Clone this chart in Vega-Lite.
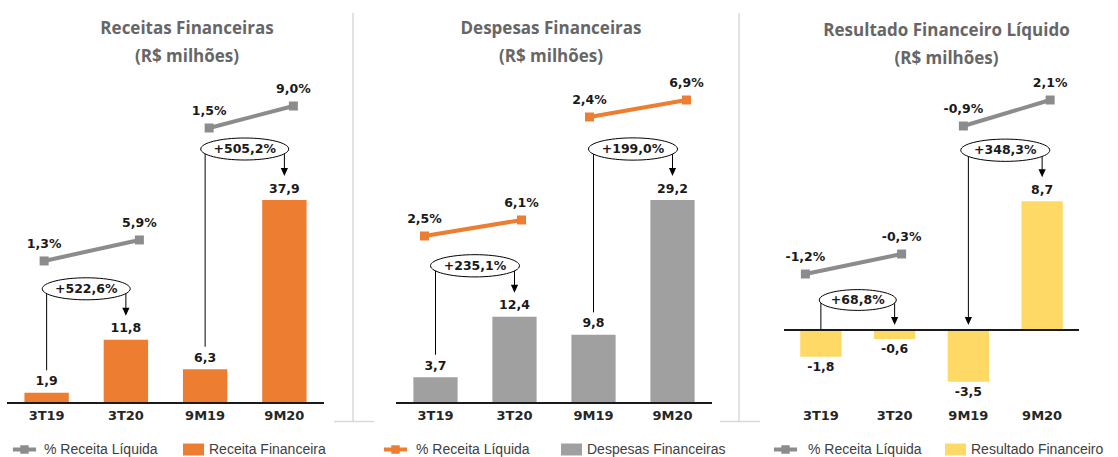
{
  "$schema": "https://vega.github.io/schema/vega-lite/v6.json",
  "background": "white",
  "padding": {"left": 6, "top": 9, "right": 0, "bottom": 0},
  "spacing": 72,
  "bounds": "flush",
  "resolve": {"scale": {"x": "independent", "y": "independent", "color": "independent", "fill": "independent"}, "legend": {"color": "independent", "fill": "independent"}},
  "config": {
    "view": {"stroke": null},
    "locale": {"number": {"decimal": ",", "thousands": ".", "grouping": [3], "currency": ["R$", ""], "minus": "-"}},
    "axisX": {"domain": false, "ticks": false, "tickSize": 0, "labelFont": "DejaVu Sans", "labelFontWeight": "bold", "labelFontSize": 13, "labelColor": "#262626", "labelPadding": 6, "labelAngle": 0, "grid": false},
    "title": {"font": "Open Sans", "fontSize": 17, "fontWeight": "bold", "color": "#666666", "lineHeight": 28, "anchor": "middle", "frame": "group", "offset": 4, "dy": 12},
    "legend": {"orient": "none", "title": null, "padding": 0, "symbolSize": 441, "symbolStrokeWidth": 0, "symbolOpacity": 1, "labelFont": "Liberation Sans", "labelFontSize": 14, "labelColor": "#404040", "labelLimit": 300}
  },
  "hconcat": [
    {
      "width": 317, "height": 343,
      "title": {"text": ["Receitas Financeiras", "(R$ milhões)"], "dx": 21.5, "dy": 60},
      "resolve": {"scale": {"y": "independent"}},
      "layer": [
        {
          "data": {"values": [
            {"cat": "3T19", "val": 1.9}, {"cat": "3T20", "val": 11.8}, {"cat": "9M19", "val": 6.3}, {"cat": "9M20", "val": 37.9}
          ]},
          "layer": [
            {"mark": {"type": "bar"},
             "encoding": {
               "x": {"field": "cat", "type": "nominal", "title": null, "scale": {"type": "band", "paddingInner": 0.44, "paddingOuter": 0.22}},
               "y": {"field": "val", "type": "quantitative", "scale": {"domain": [0, 64.04], "nice": false, "zero": false}, "axis": null},
               "color": {"datum": "Receita Financeira", "type": "nominal", "scale": {"range": ["#ED7D31"]},
                 "legend": {"orient": "none", "legendX": 176, "legendY": 379, "symbolType": "M-1,-0.57H1V0.57H-1Z", "labelOffset": 5}}
             }},
            {"transform": [{"filter": "datum.cat === '9M20'"}],
             "mark": {"type": "point", "shape": "M0,-1V1M-0.093,1H0.103", "size": 166872, "filled": false, "stroke": "#D9D9D9", "strokeWidth": 1.5, "opacity": 1},
             "encoding": {"x": {"field": "cat", "type": "nominal", "title": null, "bandPosition": 2.046}, "y": {"datum": 34.68, "type": "quantitative", "axis": null}}},
            {"mark": {"type": "text", "font": "DejaVu Sans", "fontWeight": "bold", "fontSize": 12.5, "color": "#1a1a1a", "baseline": "middle", "align": "center", "dy": -11.5},
             "encoding": {"x": {"field": "cat", "type": "nominal", "title": null}, "y": {"field": "val", "type": "quantitative", "axis": null}, "text": {"field": "val", "type": "quantitative", "format": ".1f"}}},
            {"mark": {"type": "rule", "color": "#1a1a1a", "strokeWidth": 1.3}, "encoding": {"y": {"datum": 0, "type": "quantitative", "axis": null}}},
            {
              "data": {"values": [
                {"c1": "3T19", "c2": "3T20", "v1": 1.9, "v2": 11.8, "g": 5.226},
                {"c1": "9M19", "c2": "9M20", "v1": 6.3, "v2": 37.9, "g": 5.052}
              ]},
              "layer": [
                {"mark": {"type": "rule", "color": "black", "strokeWidth": 1, "yOffset": -22.5, "y2Offset": -51},
                 "encoding": {"x": {"field": "c1", "type": "nominal", "title": null}, "y": {"field": "v1", "type": "quantitative", "axis": null}, "y2": {"field": "v2"}}},
                {"mark": {"type": "rule", "color": "black", "strokeWidth": 1, "yOffset": -51, "y2Offset": -31},
                 "encoding": {"x": {"field": "c2", "type": "nominal", "title": null}, "y": {"field": "v2", "type": "quantitative", "axis": null}, "y2": {"field": "v2"}}},
                {"mark": {"type": "point", "shape": "M-0.45,-0.5L0.45,-0.5L0,0.5Z", "size": 256, "filled": true, "fill": "black", "strokeWidth": 0, "opacity": 1, "yOffset": -28},
                 "encoding": {"x": {"field": "c2", "type": "nominal", "title": null}, "y": {"field": "v2", "type": "quantitative", "axis": null}}},
                {"mark": {"type": "point", "shape": "M-1,0C-1,-0.138,-0.552,-0.25,0,-0.25C0.552,-0.25,1,-0.138,1,0C1,0.138,0.552,0.25,0,0.25C-0.552,0.25,-1,0.138,-1,0Z", "size": 7744, "filled": true, "fill": "white", "stroke": "black", "strokeWidth": 1, "opacity": 1, "xOffset": 39.6, "yOffset": -51},
                 "encoding": {"x": {"field": "c1", "type": "nominal", "title": null}, "y": {"field": "v2", "type": "quantitative", "axis": null}}},
                {"mark": {"type": "text", "font": "DejaVu Sans", "fontWeight": "bold", "fontSize": 12.5, "color": "#1a1a1a", "baseline": "middle", "align": "center", "xOffset": 39.6, "yOffset": -51},
                 "encoding": {"x": {"field": "c1", "type": "nominal", "title": null}, "y": {"field": "v2", "type": "quantitative", "axis": null}, "text": {"field": "g", "type": "quantitative", "format": "+.1%"}}}
              ]
            }
          ]
        },
        {
          "data": {"values": [{"c1": "3T19", "c2": "3T20", "p1": 0.013, "p2": 0.059}]},
          "layer": [
            {"mark": {"type": "rule", "color": "#8C8C8C", "strokeWidth": 4, "xOffset": -2.5, "x2Offset": 13.5},
             "encoding": {"x": {"field": "c1", "type": "nominal", "title": null}, "x2": {"field": "c2"}, "y": {"field": "p1", "type": "quantitative", "scale": {"domain": [-0.298, 0.453], "nice": false, "zero": false}, "axis": null}, "y2": {"field": "p2"}}},
            {"mark": {"type": "square", "size": 81, "color": "#8C8C8C", "opacity": 1, "xOffset": -2.5},
             "encoding": {"x": {"field": "c1", "type": "nominal", "title": null}, "y": {"field": "p1", "type": "quantitative", "axis": null},
               "fill": {"datum": "% Receita Líquida", "type": "nominal", "scale": {"range": ["#8C8C8C"]},
                 "legend": {"orient": "none", "legendX": 7, "legendY": 379, "symbolType": "M-1.1,-0.19H1.1V0.19H-1.1ZM-0.4,-0.4H0.4V0.4H-0.4Z", "labelOffset": 9}}}},
            {"mark": {"type": "square", "size": 81, "color": "#8C8C8C", "opacity": 1, "xOffset": 13.5},
             "encoding": {"x": {"field": "c2", "type": "nominal", "title": null}, "y": {"field": "p2", "type": "quantitative", "axis": null}}},
            {"mark": {"type": "text", "font": "DejaVu Sans", "fontWeight": "bold", "fontSize": 12.5, "color": "#1a1a1a", "baseline": "middle", "align": "center", "xOffset": -2.5, "dy": -17},
             "encoding": {"x": {"field": "c1", "type": "nominal", "title": null}, "y": {"field": "p1", "type": "quantitative", "axis": null}, "text": {"field": "p1", "type": "quantitative", "format": ".1%"}}},
            {"mark": {"type": "text", "font": "DejaVu Sans", "fontWeight": "bold", "fontSize": 12.5, "color": "#1a1a1a", "baseline": "middle", "align": "center", "xOffset": 13.5, "dy": -17},
             "encoding": {"x": {"field": "c2", "type": "nominal", "title": null}, "y": {"field": "p2", "type": "quantitative", "axis": null}, "text": {"field": "p2", "type": "quantitative", "format": ".1%"}}}
          ]
        },
        {
          "data": {"values": [{"c1": "9M19", "c2": "9M20", "p1": 0.015, "p2": 0.09}]},
          "layer": [
            {"mark": {"type": "rule", "color": "#8C8C8C", "strokeWidth": 4, "xOffset": 4, "x2Offset": 9},
             "encoding": {"x": {"field": "c1", "type": "nominal", "title": null}, "x2": {"field": "c2"}, "y": {"field": "p1", "type": "quantitative", "scale": {"domain": [-0.9225, 0.2468], "nice": false, "zero": false}, "axis": null}, "y2": {"field": "p2"}}},
            {"mark": {"type": "square", "size": 81, "color": "#8C8C8C", "opacity": 1, "xOffset": 4},
             "encoding": {"x": {"field": "c1", "type": "nominal", "title": null}, "y": {"field": "p1", "type": "quantitative", "axis": null}}},
            {"mark": {"type": "square", "size": 81, "color": "#8C8C8C", "opacity": 1, "xOffset": 9},
             "encoding": {"x": {"field": "c2", "type": "nominal", "title": null}, "y": {"field": "p2", "type": "quantitative", "axis": null}}},
            {"mark": {"type": "text", "font": "DejaVu Sans", "fontWeight": "bold", "fontSize": 12.5, "color": "#1a1a1a", "baseline": "middle", "align": "center", "xOffset": 4, "dy": -17},
             "encoding": {"x": {"field": "c1", "type": "nominal", "title": null}, "y": {"field": "p1", "type": "quantitative", "axis": null}, "text": {"field": "p1", "type": "quantitative", "format": ".1%"}}},
            {"mark": {"type": "text", "font": "DejaVu Sans", "fontWeight": "bold", "fontSize": 12.5, "color": "#1a1a1a", "baseline": "middle", "align": "center", "xOffset": 9, "dy": -17},
             "encoding": {"x": {"field": "c2", "type": "nominal", "title": null}, "y": {"field": "p2", "type": "quantitative", "axis": null}, "text": {"field": "p2", "type": "quantitative", "format": ".1%"}}}
          ]
        }
      ]
    },
    {
      "width": 316, "height": 343,
      "title": {"text": ["Despesas Financeiras", "(R$ milhões)"], "dx": -3, "dy": 60},
      "resolve": {"scale": {"y": "independent"}},
      "layer": [
        {
          "data": {"values": [
            {"cat": "3T19", "val": 3.7}, {"cat": "3T20", "val": 12.4}, {"cat": "9M19", "val": 9.8}, {"cat": "9M20", "val": 29.2}
          ]},
          "layer": [
            {"mark": {"type": "bar"},
             "encoding": {
               "x": {"field": "cat", "type": "nominal", "title": null, "scale": {"type": "band", "paddingInner": 0.44, "paddingOuter": 0.22}},
               "y": {"field": "val", "type": "quantitative", "scale": {"domain": [0, 49.34], "nice": false, "zero": false}, "axis": null},
               "color": {"datum": "Despesas Financeiras", "type": "nominal", "scale": {"range": ["#A0A0A0"]},
                 "legend": {"orient": "none", "legendX": 165, "legendY": 379, "symbolType": "M-1,-0.57H1V0.57H-1Z", "labelOffset": 5}}
             }},
            {"transform": [{"filter": "datum.cat === '9M20'"}],
             "mark": {"type": "point", "shape": "M0,-1V1M-0.093,1H0.103", "size": 166872, "filled": false, "stroke": "#D9D9D9", "strokeWidth": 1.5, "opacity": 1},
             "encoding": {"x": {"field": "cat", "type": "nominal", "title": null, "bandPosition": 2.003}, "y": {"datum": 26.72, "type": "quantitative", "axis": null}}},
            {"mark": {"type": "text", "font": "DejaVu Sans", "fontWeight": "bold", "fontSize": 12.5, "color": "#1a1a1a", "baseline": "middle", "align": "center", "dy": -11.5},
             "encoding": {"x": {"field": "cat", "type": "nominal", "title": null}, "y": {"field": "val", "type": "quantitative", "axis": null}, "text": {"field": "val", "type": "quantitative", "format": ".1f"}}},
            {"mark": {"type": "rule", "color": "#1a1a1a", "strokeWidth": 1.3}, "encoding": {"y": {"datum": 0, "type": "quantitative", "axis": null}}},
            {
              "data": {"values": [
                {"c1": "3T19", "c2": "3T20", "v1": 3.7, "v2": 12.4, "g": 2.351},
                {"c1": "9M19", "c2": "9M20", "v1": 9.8, "v2": 29.2, "g": 1.99}
              ]},
              "layer": [
                {"mark": {"type": "rule", "color": "black", "strokeWidth": 1, "yOffset": -22.5, "y2Offset": -51},
                 "encoding": {"x": {"field": "c1", "type": "nominal", "title": null}, "y": {"field": "v1", "type": "quantitative", "axis": null}, "y2": {"field": "v2"}}},
                {"mark": {"type": "rule", "color": "black", "strokeWidth": 1, "yOffset": -51, "y2Offset": -31},
                 "encoding": {"x": {"field": "c2", "type": "nominal", "title": null}, "y": {"field": "v2", "type": "quantitative", "axis": null}, "y2": {"field": "v2"}}},
                {"mark": {"type": "point", "shape": "M-0.45,-0.5L0.45,-0.5L0,0.5Z", "size": 256, "filled": true, "fill": "black", "strokeWidth": 0, "opacity": 1, "yOffset": -28},
                 "encoding": {"x": {"field": "c2", "type": "nominal", "title": null}, "y": {"field": "v2", "type": "quantitative", "axis": null}}},
                {"mark": {"type": "point", "shape": "M-1,0C-1,-0.138,-0.552,-0.25,0,-0.25C0.552,-0.25,1,-0.138,1,0C1,0.138,0.552,0.25,0,0.25C-0.552,0.25,-1,0.138,-1,0Z", "size": 7921, "filled": true, "fill": "white", "stroke": "black", "strokeWidth": 1, "opacity": 1, "xOffset": 39.5, "yOffset": -51},
                 "encoding": {"x": {"field": "c1", "type": "nominal", "title": null}, "y": {"field": "v2", "type": "quantitative", "axis": null}}},
                {"mark": {"type": "text", "font": "DejaVu Sans", "fontWeight": "bold", "fontSize": 12.5, "color": "#1a1a1a", "baseline": "middle", "align": "center", "xOffset": 39.5, "yOffset": -51},
                 "encoding": {"x": {"field": "c1", "type": "nominal", "title": null}, "y": {"field": "v2", "type": "quantitative", "axis": null}, "text": {"field": "g", "type": "quantitative", "format": "+.1%"}}}
              ]
            }
          ]
        },
        {
          "data": {"values": [{"c1": "3T19", "c2": "3T20", "p1": 0.025, "p2": 0.061}]},
          "layer": [
            {"mark": {"type": "rule", "color": "#ED7D31", "strokeWidth": 4, "xOffset": -11, "x2Offset": 7},
             "encoding": {"x": {"field": "c1", "type": "nominal", "title": null}, "x2": {"field": "c2"}, "y": {"field": "p1", "type": "quantitative", "scale": {"domain": [-0.3508, 0.421], "nice": false, "zero": false}, "axis": null}, "y2": {"field": "p2"}}},
            {"mark": {"type": "square", "size": 81, "color": "#ED7D31", "opacity": 1, "xOffset": -11},
             "encoding": {"x": {"field": "c1", "type": "nominal", "title": null}, "y": {"field": "p1", "type": "quantitative", "axis": null},
               "fill": {"datum": "% Receita Líquida", "type": "nominal", "scale": {"range": ["#ED7D31"]},
                 "legend": {"orient": "none", "legendX": -11, "legendY": 379, "symbolType": "M-1.1,-0.19H1.1V0.19H-1.1ZM-0.4,-0.4H0.4V0.4H-0.4Z", "labelOffset": 10}}}},
            {"mark": {"type": "square", "size": 81, "color": "#ED7D31", "opacity": 1, "xOffset": 7},
             "encoding": {"x": {"field": "c2", "type": "nominal", "title": null}, "y": {"field": "p2", "type": "quantitative", "axis": null}}},
            {"mark": {"type": "text", "font": "DejaVu Sans", "fontWeight": "bold", "fontSize": 12.5, "color": "#1a1a1a", "baseline": "middle", "align": "center", "xOffset": -11, "dy": -17},
             "encoding": {"x": {"field": "c1", "type": "nominal", "title": null}, "y": {"field": "p1", "type": "quantitative", "axis": null}, "text": {"field": "p1", "type": "quantitative", "format": ".1%"}}},
            {"mark": {"type": "text", "font": "DejaVu Sans", "fontWeight": "bold", "fontSize": 12.5, "color": "#1a1a1a", "baseline": "middle", "align": "center", "xOffset": 7, "dy": -17},
             "encoding": {"x": {"field": "c2", "type": "nominal", "title": null}, "y": {"field": "p2", "type": "quantitative", "axis": null}, "text": {"field": "p2", "type": "quantitative", "format": ".1%"}}}
          ]
        },
        {
          "data": {"values": [{"c1": "9M19", "c2": "9M20", "p1": 0.024, "p2": 0.069}]},
          "layer": [
            {"mark": {"type": "rule", "color": "#ED7D31", "strokeWidth": 4, "xOffset": -4, "x2Offset": 14},
             "encoding": {"x": {"field": "c1", "type": "nominal", "title": null}, "x2": {"field": "c2"}, "y": {"field": "p1", "type": "quantitative", "scale": {"domain": [-0.733, 0.1749], "nice": false, "zero": false}, "axis": null}, "y2": {"field": "p2"}}},
            {"mark": {"type": "square", "size": 81, "color": "#ED7D31", "opacity": 1, "xOffset": -4},
             "encoding": {"x": {"field": "c1", "type": "nominal", "title": null}, "y": {"field": "p1", "type": "quantitative", "axis": null}}},
            {"mark": {"type": "square", "size": 81, "color": "#ED7D31", "opacity": 1, "xOffset": 14},
             "encoding": {"x": {"field": "c2", "type": "nominal", "title": null}, "y": {"field": "p2", "type": "quantitative", "axis": null}}},
            {"mark": {"type": "text", "font": "DejaVu Sans", "fontWeight": "bold", "fontSize": 12.5, "color": "#1a1a1a", "baseline": "middle", "align": "center", "xOffset": -4, "dy": -17},
             "encoding": {"x": {"field": "c1", "type": "nominal", "title": null}, "y": {"field": "p1", "type": "quantitative", "axis": null}, "text": {"field": "p1", "type": "quantitative", "format": ".1%"}}},
            {"mark": {"type": "text", "font": "DejaVu Sans", "fontWeight": "bold", "fontSize": 12.5, "color": "#1a1a1a", "baseline": "middle", "align": "center", "xOffset": 14, "dy": -17},
             "encoding": {"x": {"field": "c2", "type": "nominal", "title": null}, "y": {"field": "p2", "type": "quantitative", "axis": null}, "text": {"field": "p2", "type": "quantitative", "format": ".1%"}}}
          ]
        }
      ]
    },
    {
      "width": 295, "height": 343,
      "title": {"text": ["Resultado Financeiro Líquido", "(R$ milhões)"], "dx": 15},
      "resolve": {"scale": {"y": "independent"}},
      "layer": [
        {
          "data": {"values": [
            {"cat": "3T19", "val": -1.8}, {"cat": "3T20", "val": -0.6}, {"cat": "9M19", "val": -3.5}, {"cat": "9M20", "val": 8.7}
          ]},
          "layer": [
            {"mark": {"type": "bar"},
             "encoding": {
               "x": {"field": "cat", "type": "nominal", "title": null, "scale": {"type": "band", "paddingInner": 0.44, "paddingOuter": 0.22}},
               "y": {"field": "val", "type": "quantitative", "scale": {"domain": [-4.932, 18.243], "nice": false, "zero": false}, "axis": null},
               "color": {"datum": "Resultado Financeiro", "type": "nominal", "scale": {"range": ["#FFD966"]},
                 "legend": {"orient": "none", "legendX": 161, "legendY": 379, "symbolType": "M-1,-0.57H1V0.57H-1Z", "labelOffset": 5}}
             }},
            {"transform": [{"filter": "datum.val >= 0"}],
             "mark": {"type": "text", "font": "DejaVu Sans", "fontWeight": "bold", "fontSize": 12.5, "color": "#1a1a1a", "baseline": "middle", "align": "center", "dy": -11.5},
             "encoding": {"x": {"field": "cat", "type": "nominal", "title": null}, "y": {"field": "val", "type": "quantitative", "axis": null}, "text": {"field": "val", "type": "quantitative", "format": ".1f"}}},
            {"transform": [{"filter": "datum.val < 0"}],
             "mark": {"type": "text", "font": "DejaVu Sans", "fontWeight": "bold", "fontSize": 12.5, "color": "#1a1a1a", "baseline": "middle", "align": "center", "dy": 10},
             "encoding": {"x": {"field": "cat", "type": "nominal", "title": null}, "y": {"field": "val", "type": "quantitative", "axis": null}, "text": {"field": "val", "type": "quantitative", "format": ".1f"}}},
            {"mark": {"type": "rule", "color": "#1a1a1a", "strokeWidth": 1.3}, "encoding": {"y": {"datum": 0, "type": "quantitative", "axis": null}}},
            {
              "data": {"values": [{"c1": "3T19", "c2": "3T20", "base": 0, "g": 0.688}]},
              "layer": [
                {"mark": {"type": "rule", "color": "black", "strokeWidth": 1, "y2Offset": -30},
                 "encoding": {"x": {"field": "c1", "type": "nominal", "title": null}, "y": {"field": "base", "type": "quantitative", "axis": null}, "y2": {"field": "base"}}},
                {"mark": {"type": "rule", "color": "black", "strokeWidth": 1, "yOffset": -30, "y2Offset": -12},
                 "encoding": {"x": {"field": "c2", "type": "nominal", "title": null}, "y": {"field": "base", "type": "quantitative", "axis": null}, "y2": {"field": "base"}}},
                {"mark": {"type": "point", "shape": "M-0.45,-0.5L0.45,-0.5L0,0.5Z", "size": 256, "filled": true, "fill": "black", "strokeWidth": 0, "opacity": 1, "yOffset": -9},
                 "encoding": {"x": {"field": "c2", "type": "nominal", "title": null}, "y": {"field": "base", "type": "quantitative", "axis": null}}},
                {"mark": {"type": "point", "shape": "M-1,0C-1,-0.149,-0.552,-0.27,0,-0.27C0.552,-0.27,1,-0.149,1,0C1,0.149,0.552,0.27,0,0.27C-0.552,0.27,-1,0.149,-1,0Z", "size": 5929, "filled": true, "fill": "white", "stroke": "black", "strokeWidth": 1, "opacity": 1, "xOffset": 36.9, "yOffset": -30},
                 "encoding": {"x": {"field": "c1", "type": "nominal", "title": null}, "y": {"field": "base", "type": "quantitative", "axis": null}}},
                {"mark": {"type": "text", "font": "DejaVu Sans", "fontWeight": "bold", "fontSize": 12.5, "color": "#1a1a1a", "baseline": "middle", "align": "center", "xOffset": 36.9, "yOffset": -30},
                 "encoding": {"x": {"field": "c1", "type": "nominal", "title": null}, "y": {"field": "base", "type": "quantitative", "axis": null}, "text": {"field": "g", "type": "quantitative", "format": "+.1%"}}}
              ]
            },
            {
              "data": {"values": [{"c1": "9M19", "c2": "9M20", "base": 0, "v2": 8.7, "g": 3.483}]},
              "layer": [
                {"mark": {"type": "rule", "color": "black", "strokeWidth": 1, "yOffset": -12, "y2Offset": -51},
                 "encoding": {"x": {"field": "c1", "type": "nominal", "title": null}, "y": {"field": "base", "type": "quantitative", "axis": null}, "y2": {"field": "v2"}}},
                {"mark": {"type": "point", "shape": "M-0.45,-0.5L0.45,-0.5L0,0.5Z", "size": 256, "filled": true, "fill": "black", "strokeWidth": 0, "opacity": 1, "yOffset": -9},
                 "encoding": {"x": {"field": "c1", "type": "nominal", "title": null}, "y": {"field": "base", "type": "quantitative", "axis": null}}},
                {"mark": {"type": "rule", "color": "black", "strokeWidth": 1, "yOffset": -51, "y2Offset": -31},
                 "encoding": {"x": {"field": "c2", "type": "nominal", "title": null}, "y": {"field": "v2", "type": "quantitative", "axis": null}, "y2": {"field": "v2"}}},
                {"mark": {"type": "point", "shape": "M-0.45,-0.5L0.45,-0.5L0,0.5Z", "size": 256, "filled": true, "fill": "black", "strokeWidth": 0, "opacity": 1, "yOffset": -28},
                 "encoding": {"x": {"field": "c2", "type": "nominal", "title": null}, "y": {"field": "v2", "type": "quantitative", "axis": null}}},
                {"mark": {"type": "point", "shape": "M-1,0C-1,-0.138,-0.552,-0.25,0,-0.25C0.552,-0.25,1,-0.138,1,0C1,0.138,0.552,0.25,0,0.25C-0.552,0.25,-1,0.138,-1,0Z", "size": 7921, "filled": true, "fill": "white", "stroke": "black", "strokeWidth": 1, "opacity": 1, "xOffset": 36.9, "yOffset": -51},
                 "encoding": {"x": {"field": "c1", "type": "nominal", "title": null}, "y": {"field": "v2", "type": "quantitative", "axis": null}}},
                {"mark": {"type": "text", "font": "DejaVu Sans", "fontWeight": "bold", "fontSize": 12.5, "color": "#1a1a1a", "baseline": "middle", "align": "center", "xOffset": 36.9, "yOffset": -51},
                 "encoding": {"x": {"field": "c1", "type": "nominal", "title": null}, "y": {"field": "v2", "type": "quantitative", "axis": null}, "text": {"field": "g", "type": "quantitative", "format": "+.1%"}}}
              ]
            }
          ]
        },
        {
          "data": {"values": [{"c1": "3T19", "c2": "3T20", "p1": -0.012, "p2": -0.003}]},
          "layer": [
            {"mark": {"type": "rule", "color": "#8C8C8C", "strokeWidth": 4, "xOffset": -15.5, "x2Offset": 7},
             "encoding": {"x": {"field": "c1", "type": "nominal", "title": null}, "x2": {"field": "c2"}, "y": {"field": "p1", "type": "quantitative", "scale": {"domain": [-0.07005, 0.0843], "nice": false, "zero": false}, "axis": null}, "y2": {"field": "p2"}}},
            {"mark": {"type": "square", "size": 81, "color": "#8C8C8C", "opacity": 1, "xOffset": -15.5},
             "encoding": {"x": {"field": "c1", "type": "nominal", "title": null}, "y": {"field": "p1", "type": "quantitative", "axis": null},
               "fill": {"datum": "% Receita Líquida", "type": "nominal", "scale": {"range": ["#8C8C8C"]},
                 "legend": {"orient": "none", "legendX": -9, "legendY": 379, "symbolType": "M-1.1,-0.19H1.1V0.19H-1.1ZM-0.4,-0.4H0.4V0.4H-0.4Z", "labelOffset": 12}}}},
            {"mark": {"type": "square", "size": 81, "color": "#8C8C8C", "opacity": 1, "xOffset": 7},
             "encoding": {"x": {"field": "c2", "type": "nominal", "title": null}, "y": {"field": "p2", "type": "quantitative", "axis": null}}},
            {"mark": {"type": "text", "font": "DejaVu Sans", "fontWeight": "bold", "fontSize": 12.5, "color": "#1a1a1a", "baseline": "middle", "align": "center", "xOffset": -15.5, "dy": -17},
             "encoding": {"x": {"field": "c1", "type": "nominal", "title": null}, "y": {"field": "p1", "type": "quantitative", "axis": null}, "text": {"field": "p1", "type": "quantitative", "format": ".1%"}}},
            {"mark": {"type": "text", "font": "DejaVu Sans", "fontWeight": "bold", "fontSize": 12.5, "color": "#1a1a1a", "baseline": "middle", "align": "center", "xOffset": 7, "dy": -17},
             "encoding": {"x": {"field": "c2", "type": "nominal", "title": null}, "y": {"field": "p2", "type": "quantitative", "axis": null}, "text": {"field": "p2", "type": "quantitative", "format": ".1%"}}}
          ]
        },
        {
          "data": {"values": [{"c1": "9M19", "c2": "9M20", "p1": -0.009, "p2": 0.021}]},
          "layer": [
            {"mark": {"type": "rule", "color": "#8C8C8C", "strokeWidth": 4, "xOffset": -5, "x2Offset": 8},
             "encoding": {"x": {"field": "c1", "type": "nominal", "title": null}, "x2": {"field": "c2"}, "y": {"field": "p1", "type": "quantitative", "scale": {"domain": [-0.3286, 0.06715], "nice": false, "zero": false}, "axis": null}, "y2": {"field": "p2"}}},
            {"mark": {"type": "square", "size": 81, "color": "#8C8C8C", "opacity": 1, "xOffset": -5},
             "encoding": {"x": {"field": "c1", "type": "nominal", "title": null}, "y": {"field": "p1", "type": "quantitative", "axis": null}}},
            {"mark": {"type": "square", "size": 81, "color": "#8C8C8C", "opacity": 1, "xOffset": 8},
             "encoding": {"x": {"field": "c2", "type": "nominal", "title": null}, "y": {"field": "p2", "type": "quantitative", "axis": null}}},
            {"mark": {"type": "text", "font": "DejaVu Sans", "fontWeight": "bold", "fontSize": 12.5, "color": "#1a1a1a", "baseline": "middle", "align": "center", "xOffset": -5, "dy": -17},
             "encoding": {"x": {"field": "c1", "type": "nominal", "title": null}, "y": {"field": "p1", "type": "quantitative", "axis": null}, "text": {"field": "p1", "type": "quantitative", "format": ".1%"}}},
            {"mark": {"type": "text", "font": "DejaVu Sans", "fontWeight": "bold", "fontSize": 12.5, "color": "#1a1a1a", "baseline": "middle", "align": "center", "xOffset": 8, "dy": -17},
             "encoding": {"x": {"field": "c2", "type": "nominal", "title": null}, "y": {"field": "p2", "type": "quantitative", "axis": null}, "text": {"field": "p2", "type": "quantitative", "format": ".1%"}}}
          ]
        }
      ]
    }
  ]
}
